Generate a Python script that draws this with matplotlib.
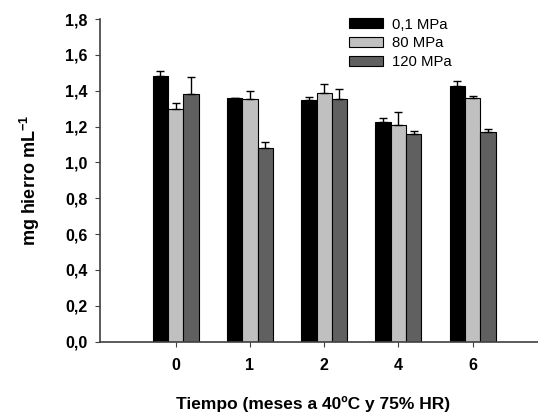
import matplotlib
matplotlib.use("Agg")
import matplotlib.pyplot as plt
import numpy as np

plt.rcParams['font.family'] = ['Liberation Sans', 'DejaVu Sans']
plt.rcParams['mathtext.fontset'] = 'custom'
plt.rcParams['mathtext.rm'] = 'Liberation Sans'
plt.rcParams['mathtext.bf'] = 'Liberation Sans:bold'

categories = ['0', '1', '2', '4', '6']
series_names = ['0,1 MPa', '80 MPa', '120 MPa']
vals_01 = [1.48, 1.357, 1.348, 1.225, 1.424]
err_01 = [0.03, 0.005, 0.017, 0.024, 0.03]
vals_80 = [1.296, 1.354, 1.387, 1.207, 1.357]
err_80 = [0.037, 0.046, 0.048, 0.074, 0.013]
vals_120 = [1.381, 1.082, 1.355, 1.160, 1.168]
err_120 = [0.093, 0.033, 0.056, 0.017, 0.017]
colors = ['#000000', '#c0c0c0', '#606060']
yticks = [0.0, 0.2, 0.4, 0.6, 0.8, 1.0, 1.2, 1.4, 1.6, 1.8]
ytick_labels = ['0,0', '0,2', '0,4', '0,6', '0,8', '1,0', '1,2', '1,4', '1,6', '1,8']

fig = plt.figure(figsize=(5.38, 4.16), dpi=100)
ax = fig.add_axes([100/538, 1 - 341.7/416, 438/538, (341.7-19)/416])

x = np.arange(len(categories))
w = 0.206
spine_col = '#404040'
for i, (vals, errs) in enumerate([(vals_01, err_01), (vals_80, err_80), (vals_120, err_120)]):
    pos = x + (i - 1) * w
    ax.bar(pos, vals, width=w, color=colors[i], edgecolor='#000000', linewidth=0.8,
           label=series_names[i], zorder=2)
    ax.errorbar(pos, vals, yerr=[np.zeros(len(errs)), errs], fmt='none',
                ecolor='#000000', elinewidth=1, capsize=3, capthick=1, zorder=3)

ax.set_xlim(-1.02, 4.88)
ax.set_ylim(0, 1.8)
ax.set_xticks(x)
ax.set_xticklabels(categories, fontsize=11.5, fontweight='bold')
ax.set_yticks(yticks)
ax.set_yticklabels(ytick_labels, fontsize=11.5, fontweight='bold')
ax.tick_params(axis='x', direction='out', length=3.5, pad=8, color=spine_col)
ax.tick_params(axis='y', direction='out', length=3.5, pad=5.5, color=spine_col)
for s in ['top', 'right']:
    ax.spines[s].set_visible(False)
for s in ['left', 'bottom']:
    ax.spines[s].set_color(spine_col)
    ax.spines[s].set_linewidth(1.2)

fig.text(30/538, 1 - 180/416, 'mg hierro mL$^{\\mathbf{-1}}$', rotation=90, ha='center', va='center',
         fontsize=13, fontweight='bold')
fig.text(313/538, 7/416, 'Tiempo (meses a 40ºC y 75% HR)', ha='center', va='baseline',
         fontsize=12.5, fontweight='bold')

leg = ax.legend(loc='upper left', bbox_to_anchor=(349/538, 1 - 17.6/416), bbox_transform=fig.transFigure,
                frameon=False, fontsize=10.7, handlelength=2.28, handleheight=0.64,
                labelspacing=0.32, handletextpad=0.58, borderaxespad=0, borderpad=0)

fig.savefig('out.png', dpi=100)
